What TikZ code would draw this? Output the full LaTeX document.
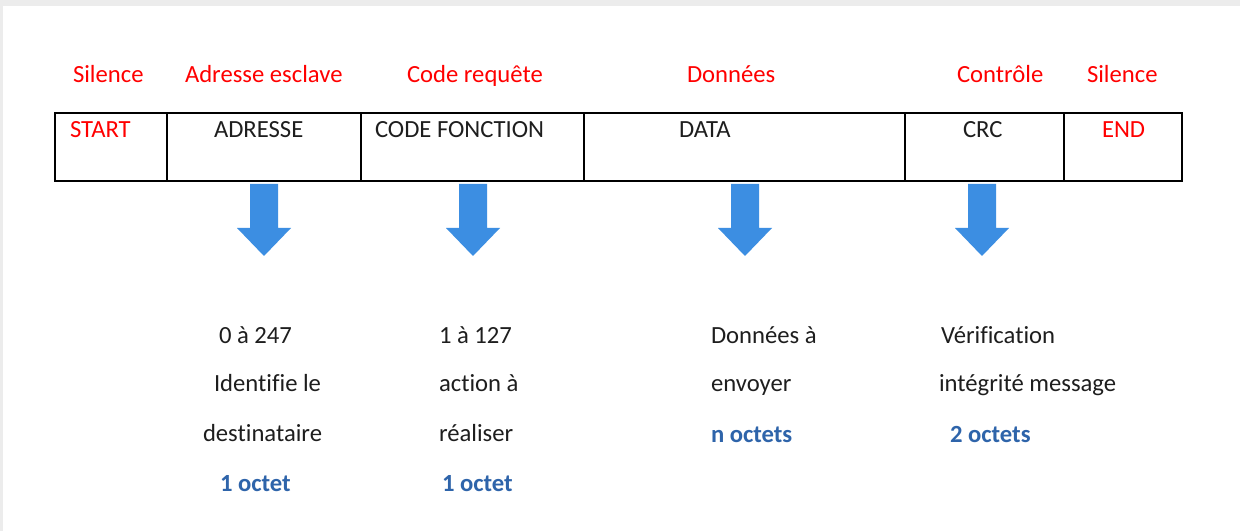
\documentclass[tikz,border=0pt]{standalone}
\usepackage{fontspec}
\setmainfont{Carlito}[Ligatures=NoCommon]
\usetikzlibrary{calc}

\definecolor{framered}{RGB}{255,0,0}
\definecolor{octetblue}{RGB}{46,100,170}
\definecolor{arrowblue}{RGB}{60,142,226}
\definecolor{bodytext}{RGB}{30,30,30}
\definecolor{shadowgray}{RGB}{236,236,236}

% Block arrow pointing down, #1 = centre of its top edge
\newcommand\downarrowblock[1]{%
  \fill[arrowblue] ($(#1)+(-14,0)$) -- ($(#1)+(14,0)$) -- ($(#1)+(14,44)$)
    -- ($(#1)+(27,44)$) -- ($(#1)+(0,72)$) -- ($(#1)+(-27,44)$)
    -- ($(#1)+(-14,44)$) -- cycle;}

\begin{document}
\begin{tikzpicture}[x=0.75pt,y=-0.75pt,
  every node/.style={font=\fontsize{18.5}{22}\selectfont, inner sep=0pt, outer sep=0pt},
  cell/.style={draw=black, line width=1.1pt, minimum height=51pt, rectangle},
  fieldname/.style={anchor=base west, text=framered},
  celltext/.style={anchor=base west, text=bodytext},
  redcell/.style={anchor=base west, text=framered},
  note/.style={anchor=base west, text=bodytext},
  size/.style={anchor=base west, text=octetblue, font=\fontsize{18.5}{22}\selectfont\bfseries}]

% page with a soft frame on the top and left
\useasboundingbox (0,0) rectangle (1240,531);
\fill[shadowgray] (0,0) rectangle (1240,531);
\fill[white] (3,6) rectangle (1240,531);

% field names
\node[fieldname] (n-sil1) at (73,83)   {Silence};
\node[fieldname] (n-adr)  at (185,83)  {Adresse esclave};
\node[fieldname] (n-code) at (407,83)  {Code requête};
\node[fieldname] (n-data) at (687,83)  {Données};
\node[fieldname] (n-crc)  at (957,83)  {Contrôle};
\node[fieldname] (n-sil2) at (1087,83) {Silence};

% frame cells
\node[cell, minimum width=84pt]     (start) at (111,147)   {};
\node[cell, minimum width=145.5pt]  (adr)   at (264,147)   {};
\node[cell, minimum width=167.25pt] (code)  at (472.5,147) {};
\node[cell, minimum width=240.75pt] (data)  at (744.5,147) {};
\node[cell, minimum width=119.25pt] (crc)   at (984.5,147) {};
\node[cell, minimum width=88.5pt]   (end)   at (1123,147)  {};

\node[redcell]  (t-start) at (70,138)   {START};
\node[celltext] (t-adr)   at (214,138)  {ADRESSE};
\node[celltext] (t-code)  at (375,138)  {CODE FONCTION};
\node[celltext] (t-data)  at (679,138)  {DATA};
\node[celltext] (t-crc)   at (963,138)  {CRC};
\node[redcell]  (t-end)   at (1102,138) {END};

% arrows below the described fields
\coordinate (a-adr)  at ($(adr.south)+(0,3)$);
\coordinate (a-code) at ($(code.south)+(0.5,3)$);
\coordinate (a-data) at ($(data.south)+(0.5,3)$);
\coordinate (a-crc)  at ($(crc.south)+(-2.5,3)$);
\downarrowblock{a-adr}
\downarrowblock{a-code}
\downarrowblock{a-data}
\downarrowblock{a-crc}

% address
\node[note] (d-adr1) at (219,344) {0 à 247};
\node[note] (d-adr2) at (214,392) {Identifie le};
\node[note] (d-adr3) at (203,441) {destinataire};
\node[size] (s-adr)  at (220,491) {1 octet};

% function code
\node[note] (d-code1) at (439,344) {1 à 127};
\node[note] (d-code2) at (439,392) {action à};
\node[note] (d-code3) at (439,441) {réaliser};
\node[size] (s-code)  at (442,491) {1 octet};

% data
\node[note] (d-data1) at (711,344) {Données à};
\node[note] (d-data2) at (711,392) {envoyer};
\node[size] (s-data)  at (711,442) {n octets};

% checksum
\node[note] (d-crc1) at (941,344) {Vérification};
\node[note] (d-crc2) at (939,392) {intégrité message};
\node[size] (s-crc)  at (950,442) {2 octets};
\end{tikzpicture}
\end{document}
